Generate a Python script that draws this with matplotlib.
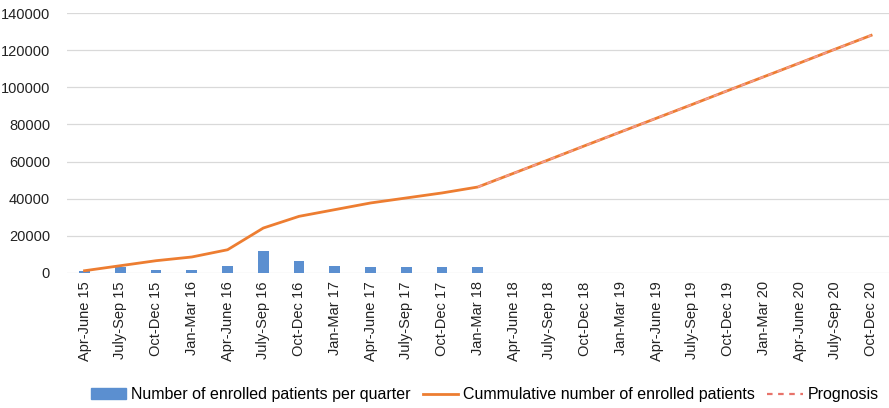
import numpy as np
import matplotlib
matplotlib.use('Agg')
import matplotlib.pyplot as plt
from matplotlib.lines import Line2D
from matplotlib.patches import Patch

plt.rcParams['font.family'] = ['Liberation Sans', 'DejaVu Sans']

quarters = ['Apr-June 15', 'July-Sep 15', 'Oct-Dec 15', 'Jan-Mar 16',
            'Apr-June 16', 'July-Sep 16', 'Oct-Dec 16', 'Jan-Mar 17',
            'Apr-June 17', 'July-Sep 17', 'Oct-Dec 17', 'Jan-Mar 18',
            'Apr-June 18', 'July-Sep 18', 'Oct-Dec 18', 'Jan-Mar 19',
            'Apr-June 19', 'July-Sep 19', 'Oct-Dec 19', 'Jan-Mar 20',
            'Apr-June 20', 'July-Sep 20', 'Oct-Dec 20']

# enrolled per quarter (only known up to Jan-Mar 18)
per_quarter = [1000, 3000, 1800, 1800, 3500, 12000, 6200, 4000, 3300, 3000, 3200, 3000]
cumulative = [1200, 3900, 6600, 8600, 12500, 24200, 30500, 34100, 37700, 40400, 43100, 46300,
              53700, 61100, 68600, 76000, 83400, 90800, 98300, 105700, 113100, 120600, 128000]
prognosis = [46300, 53700, 61100, 68600, 76000, 83400, 90800, 98300, 105700, 113100, 120600, 128000]

n = len(quarters)
x = np.arange(n)

fig = plt.figure(figsize=(8.89, 4.08), dpi=100)
ax = fig.add_axes([0.075, 0.331, 0.925, 0.637])

ax.bar(x[:len(per_quarter)], per_quarter, width=0.3, color='#5b8fd0', zorder=2)
ax.plot(x, cumulative, color='#ed7d31', lw=2, zorder=3)
ax.plot(x[n - len(prognosis):], prognosis, color='#f29a90', lw=1.4, ls=(0, (2.5, 2.5)), zorder=4)

ax.set_xlim(-0.5, n - 0.5)
ax.set_ylim(0, 140000)
ax.set_yticks(np.arange(0, 140001, 20000))
ax.set_xticks(x)
ax.set_xticklabels(quarters, rotation=90, fontsize=10.5, color='#222222')
ax.tick_params(axis='y', labelsize=10.5, colors='#222222', length=0, pad=12)
ax.tick_params(axis='x', length=0, pad=6)
ax.grid(axis='y', color='#d9d9d9', lw=0.9, zorder=0)
for s in ax.spines.values():
    s.set_visible(False)

handles = [Patch(color='#5b8fd0'),
           Line2D([0], [0], color='#ed7d31', lw=2),
           Line2D([0], [0], color='#e8736a', lw=1.6, ls=(0, (2.5, 2.5)))]
names = ['Number of enrolled patients per quarter', 'Cummulative number of enrolled patients', 'Prognosis']
fig.legend(handles, names, loc='center', bbox_to_anchor=(0.545, 0.032), ncol=3, frameon=False,
           fontsize=11.5, handlelength=2.2, handletextpad=0.3, columnspacing=0.8)

fig.savefig('out.png', dpi=100)
